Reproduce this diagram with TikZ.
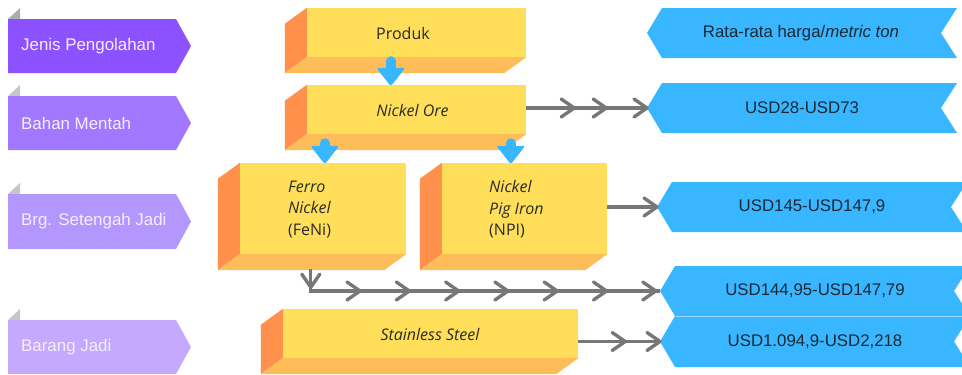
\documentclass[tikz,border=0pt]{standalone}
\usepackage{fontspec}
\setmainfont{Liberation Sans}
\newfontfamily\boxfont{Open Sans}
\usetikzlibrary{calc,decorations.markings}

\definecolor{tagA}{HTML}{8C52FF}
\definecolor{tagB}{HTML}{A178FF}
\definecolor{tagC}{HTML}{B496FF}
\definecolor{tagD}{HTML}{C5A9FF}
\definecolor{foldA}{HTML}{A6AEB6}
\definecolor{foldB}{HTML}{C4C8CD}
\definecolor{tagtxt}{HTML}{F4EFFF}
\definecolor{slabfront}{HTML}{FFDE59}
\definecolor{slabside}{HTML}{FF914D}
\definecolor{slabbottom}{HTML}{FFBD59}
\definecolor{pricefill}{HTML}{38B6FF}
\definecolor{pricesep}{HTML}{9CD9FF}
\definecolor{pricetxt}{HTML}{1C2833}
\definecolor{boxtxt}{HTML}{2A2A2A}
\definecolor{flowgray}{HTML}{777777}

% chevron drawn at each marked position along a grey connector
\newcommand\chevron{\draw[flowgray,line width=3.4pt,line cap=round,line join=round] (-13,-9) -- (0,0) -- (-13,9);}
\pgfkeys{/pgf/decoration/chev/.style={mark=at position #1 with {\chevron}}}

% purple stage tag with folded corner
\newcommand\stagetag[6]{%
  \fill[#5] (8,#2) -- (20,#2-11) -- (20,#2) -- cycle;
  \fill[#4] (8,#2) -- (176,#2) -- (191,{(#2+#3)/2}) -- (176,#3) -- (8,#3) -- cycle;
  \node[tagtext] (#1) at (21,{(#2+#3)/2}) {#6};
}
% blue price ribbon: tip x, top, bottom, right x, notch x, text x, text
\newcommand\priceribbon[8]{%
  \fill[pricefill] (#2,{(#3+#4)/2}) -- (#2+15,#3) -- (#5,#3) -- (#6,{(#3+#4)/2}) -- (#5,#4) -- (#2+15,#4) -- cycle;
  \coordinate (#1tip) at (#2,{(#3+#4)/2});
  \coordinate (#1base) at (#2+16,#4);
  \node[pricetext] (#1) at (#7,{(#3+#4)/2}) {#8};
}
% side and bottom faces of a slab whose front face is node #1
\newcommand\slabfaces[1]{%
  \fill[slabside] (#1.north west) -- (#1.south west) -- ($(#1.south west)+(-22,16)$) -- ($(#1.north west)+(-22,16)$) -- cycle;
  \fill[slabbottom] (#1.south west) -- (#1.south east) -- ($(#1.south east)+(-22,16)$) -- ($(#1.south west)+(-22,16)$) -- cycle;
}
% chunky blue downward arrow
\newcommand\bluedrop[2]{%
  \draw[pricefill,line width=10pt,line cap=round] (#1) -- ($(#2)+(0,-12)$);
  \fill[pricefill,rounded corners=2.5pt] ($(#2)+(-14.5,-17)$) -- ($(#2)+(14.5,-17)$) -- ($(#2)+(0,1.5)$) -- cycle;
}

\begin{document}
\begin{tikzpicture}[x=1pt,y=-1pt,
  tagtext/.style={anchor=west,inner sep=0pt,text=tagtxt,font=\fontsize{16.9}{19}\selectfont},
  pricetext/.style={inner sep=0pt,text=pricetxt,font=\fontsize{16.8}{19}\selectfont},
  slab/.style={fill=slabfront,inner sep=0pt},
  slabtext/.style={inner sep=0pt,text=boxtxt,font=\boxfont\fontsize{16}{21.5}\selectfont},
  conn/.style={draw=flowgray,line width=3.2pt,postaction={decorate}}]
\useasboundingbox (0,0) rectangle (962,375);

% stage tags
\stagetag{tJenis}{19}{73}{tagA}{foldA}{Jenis Pengolahan}
\stagetag{tBahan}{96}{150}{tagB}{foldB}{Bahan Mentah}
\stagetag{tSetengah}{194}{249}{tagC}{foldB}{Brg. Setengah Jadi}
\stagetag{tJadi}{320}{374}{tagD}{foldB}{Barang Jadi}

% price ribbons
\priceribbon{rHead}{647}{8}{58}{957}{941}{801}{Rata-rata harga/\textit{metric ton}}
\priceribbon{rOre}{647}{83}{133}{957}{941}{802}{USD28-USD73}
\priceribbon{rNpi}{657}{182}{232}{967}{951}{812}{USD145-USD147,9}
\priceribbon{rFeni}{660}{266}{316}{970}{954}{815}{USD144,95-USD147,79}
\priceribbon{rSst}{660}{316}{367}{970}{954}{815}{USD1.094,9-USD2,218}
\draw[pricesep,line width=0.8pt] (rFenibase) -- (rFenibase -| 962,0);

% product slabs
\node[slab,minimum width=219pt,minimum height=49pt] (prod) at (416.5,32.5) {};
\node[slab,minimum width=219pt,minimum height=49pt] (nore) at (416.5,109.5) {};
\node[slab,minimum width=166pt,minimum height=91pt] (feni) at (323,208.5) {};
\node[slab,minimum width=165pt,minimum height=91pt] (npi) at (524.5,208.5) {};
\node[slab,minimum width=295pt,minimum height=49pt] (sst) at (430.5,333.5) {};
\foreach \s in {prod,nore,feni,npi,sst} {\slabfaces{\s}}

\node[slabtext] (prodT) at (403,33) {Produk};
\node[slabtext] (noreT) at (412.5,110) {\itshape Nickel Ore};
\node[slabtext,align=left,anchor=west] (feniT) at (288,209.5) {\itshape Ferro\\\itshape Nickel\\(FeNi)};
\node[slabtext,align=left,anchor=west] (npiT) at (489,209.5) {\itshape Nickel\\\itshape Pig Iron\\(NPI)};
\node[slabtext] (sstT) at (430,334) {\itshape Stainless Steel};

% blue processing arrows
\coordinate (dOre) at ($(prod.south west)+(84,4)$);
\coordinate (dFeni) at ($(nore.south west)+(18,9)$);
\coordinate (dNpi) at ($(nore.south west)+(204,9)$);
\bluedrop{dOre}{dOre |- nore.north}
\bluedrop{dFeni}{dFeni |- feni.north}
\bluedrop{dNpi}{dNpi |- npi.north}

% grey price connectors
\draw[conn,decoration={markings,chev=48pt,chev=80pt,chev=1}] (nore.east |- rOretip) -- (rOretip);
\draw[conn,decoration={markings,chev=1}] (npi.east |- rNpitip) -- (rNpitip);
\coordinate (feniDrop) at ($(feni.south west)+(71,15)$);
\draw[conn,decoration={markings,chev=18pt,mark=between positions 71pt and 371pt step 49.3pt with {\chevron}}] (feniDrop) |- (rFenitip);
\draw[conn,decoration={markings,chev=47pt,chev=1}] (sst.east |- rSsttip) -- (rSsttip);
\end{tikzpicture}
\end{document}
